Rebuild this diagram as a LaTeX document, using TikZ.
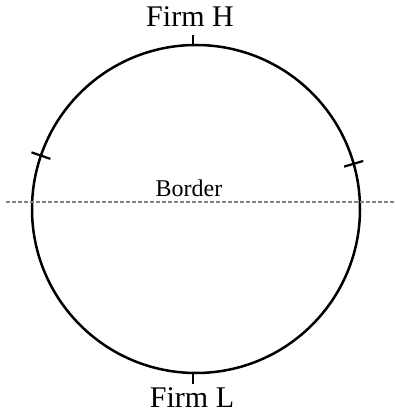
\documentclass[tikz,border=0pt]{standalone}
\usepackage{fontspec}
\setmainfont{Liberation Serif}
\usepackage{xcolor}
\usepackage{tikz}
\usetikzlibrary{positioning}
\definecolor{borderGray}{RGB}{130,130,130}

\begin{document}
\begin{tikzpicture}[x=1pt, y=1pt,
  market/.style={draw, circle, line width=2.5pt, minimum size=328pt, inner sep=0pt, outer sep=0pt},
  firm/.style={font=\fontsize{30}{36}\selectfont, inner sep=0pt, anchor=base},
  tickmark/.style={line width=2.2pt},
  borderline/.style={borderGray, line width=1.2pt, dash pattern=on 3.5pt off 2.5pt}
]
  \useasboundingbox (0,0) rectangle (395,415);
  \node[market] (market) at (196,206) {};
  % border across the market
  \coordinate (bL) at (6,213);
  \coordinate (bR) at (394,213);
  \draw[borderline] (bL) -- (bR);
  \node[firm, font=\fontsize{24}{28}\selectfont] (border) at (189,218) {Border};
  % firms at the poles
  \node[firm] (firmH) at (190,388) {Firm H};
  \node[firm] (firmL) at (192,8) {Firm L};
  \draw[tickmark] (market.91) -- ++(0,10);
  \draw[tickmark] (market.269) -- ++(0,-11);
  % tick marks on the sides
  \draw[tickmark] ([shift={(161:-10)}]market.161) -- ([shift={(161:10)}]market.161);
  \draw[tickmark] ([shift={(16.5:-10)}]market.16.5) -- ([shift={(16.5:10)}]market.16.5);
\end{tikzpicture}
\end{document}
